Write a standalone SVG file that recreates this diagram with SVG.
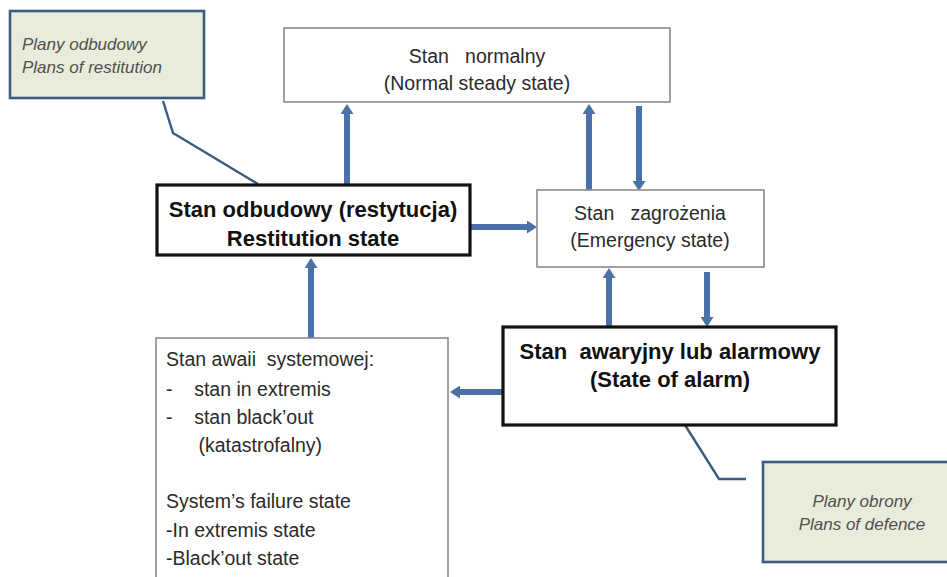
<svg xmlns="http://www.w3.org/2000/svg" width="947" height="577" viewBox="0 0 947 577">
<defs>
<style>
text{font-family:"Liberation Sans",Arial,sans-serif;fill:#2a2a2a;white-space:pre}
.st{fill:#fff;stroke:#8a8a8a;stroke-width:1.6}
.bold{fill:#fff;stroke:#111;stroke-width:3.2}
.call{fill:#e9ecda;stroke:#3d5a80;stroke-width:2.6}
.t19{font-size:19.5px}
.tb{font-size:22px;font-weight:bold;fill:#111}
.ti{font-size:17px;font-style:italic;fill:#505050}
.tl{font-size:19.5px}
.arr{stroke:#4a72a6;stroke-width:6;fill:none;marker-end:url(#ah)}
.lead{stroke:#3d5a80;stroke-width:2.4;fill:none}
</style>
<marker id="ah" markerUnits="userSpaceOnUse" markerWidth="10" markerHeight="13" refX="2" refY="6.5" orient="auto">
<path d="M0,0 L10,6.5 L0,13 z" fill="#4a72a6"/>
</marker>
</defs>
<rect width="947" height="577" fill="#fff"/>

<g id="connectors">
<line class="arr" x1="347" y1="185" x2="347" y2="112"/>
<line class="arr" x1="589" y1="190" x2="589" y2="112"/>
<line class="arr" x1="639" y1="106" x2="639" y2="183"/>
<line class="arr" x1="470" y1="227" x2="529" y2="227"/>
<line class="arr" x1="609" y1="327" x2="609" y2="276"/>
<line class="arr" x1="707" y1="272" x2="707" y2="319"/>
<line class="arr" x1="503" y1="392" x2="458" y2="392"/>
<line class="arr" x1="311" y1="338" x2="311" y2="266"/>
<polyline class="lead" points="163,101 173,133 258,184"/>
<polyline class="lead" points="685,425 719,479 746,479"/>
</g>

<g id="callout-restitution">
<rect class="call" x="10" y="11" width="194" height="87"/>
<text class="ti" x="22" y="50">Plany odbudowy</text>
<text class="ti" x="22" y="73">Plans of restitution</text>
</g>

<g id="normal">
<rect class="st" x="284" y="28" width="386" height="74"/>
<text class="t19" x="477" y="63" text-anchor="middle">Stan   normalny</text>
<text class="t19" x="477" y="90" text-anchor="middle">(Normal steady state)</text>
</g>

<g id="restitution">
<rect class="bold" x="157" y="185" width="313" height="70"/>
<text class="tb" x="313" y="217" text-anchor="middle">Stan odbudowy (restytucja)</text>
<text class="tb" x="313" y="246" text-anchor="middle">Restitution state</text>
</g>

<g id="emergency">
<rect class="st" x="537" y="190" width="227" height="77"/>
<text class="t19" x="650" y="220" text-anchor="middle">Stan   zagrożenia</text>
<text class="t19" x="650" y="247" text-anchor="middle">(Emergency state)</text>
</g>

<g id="alarm">
<rect class="bold" x="503" y="327" width="333" height="98"/>
<text class="tb" x="670" y="359" text-anchor="middle">Stan  awaryjny lub alarmowy</text>
<text class="tb" x="670" y="387" text-anchor="middle">(State of alarm)</text>
</g>

<g id="failure">
<rect class="st" x="156" y="338" width="292" height="245"/>
<text class="tl" x="166" y="366">Stan awaii  systemowej:</text>
<text class="tl" x="166" y="396">-    stan in extremis</text>
<text class="tl" x="166" y="424">-    stan black’out</text>
<text class="tl" x="166" y="452">      (katastrofalny)</text>
<text class="tl" x="166" y="508">System’s failure state</text>
<text class="tl" x="166" y="537">-In extremis state</text>
<text class="tl" x="166" y="565">-Black’out state</text>
</g>

<g id="callout-defence">
<rect class="call" x="763" y="462" width="190" height="100"/>
<text class="ti" x="862" y="507" text-anchor="middle">Plany obrony</text>
<text class="ti" x="862" y="530" text-anchor="middle">Plans of defence</text>
</g>
</svg>
